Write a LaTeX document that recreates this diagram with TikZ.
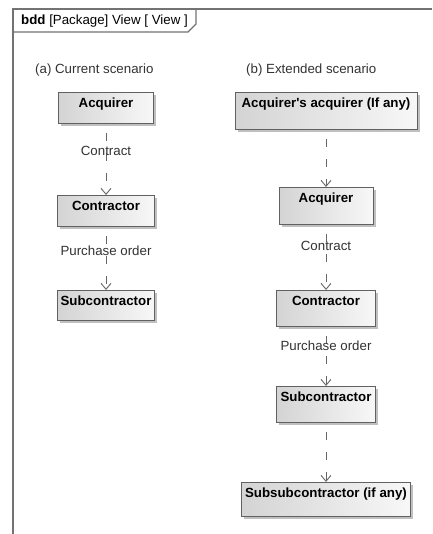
\documentclass[tikz,border=0pt]{standalone}
\usepackage{fontspec}
\setmainfont{Liberation Sans}[Ligatures=TeXOff]
\usetikzlibrary{arrows.meta,shadows}
\begin{document}
\begin{tikzpicture}[x=1bp,y=-1bp,
  every node/.style={font=\fontsize{13.3bp}{16bp}\selectfont},
  umlbox/.style={draw=black!62, line width=0.8bp, left color=black!17, right color=black!3,
     anchor=north, inner xsep=0bp, inner ysep=2bp, text height=13bp,
     font=\fontsize{13.3bp}{16bp}\selectfont\bfseries,
     drop shadow={shadow xshift=2.5bp, shadow yshift=-2.5bp, fill=black!35, opacity=0.7}},
  dep/.style={draw=black!60, line width=0.9bp, dash pattern=on 8bp off 12bp, dash phase=-9bp,
     -{Straight Barb[length=6bp,width=10bp,line width=0.9bp]}},
  lbl/.style={text=black!80, inner sep=0bp},
  frame/.style={draw=black!55, line width=1.4bp}]
\useasboundingbox (0,0) rectangle (432,534);
\fill[white] (0,0) rectangle (432,534);
% frame
\draw[frame] (13,534) -- (13,9) -- (432,9);
\draw[frame] (13,32) -- (188,32) -- (196,24) -- (196,9);
\node[anchor=west, inner sep=0bp] (title) at (21,21) {\textbf{bdd} [Package] View [ View ]};
% scenario labels
\node[lbl, anchor=west] (sa) at (35,70) {(a) Current scenario};
\node[lbl, anchor=west] (sb) at (246,70) {(b) Extended scenario};
% left column
\node[umlbox, minimum width=95bp, text depth=14bp] (la) at (106,92) {Acquirer};
\node[umlbox, minimum width=97bp, text depth=14bp] (lc) at (106,195) {Contractor};
\node[umlbox, minimum width=97bp, text depth=13bp] (ls) at (106,290) {Subcontractor};
% right column
\node[umlbox, minimum width=182bp, text depth=20bp] (raa) at (326,92) {Acquirer's acquirer (If any)};
\node[umlbox, minimum width=94bp, text depth=20bp] (ra) at (326,187) {Acquirer};
\node[umlbox, minimum width=99bp, text depth=19bp] (rc) at (326,290) {Contractor};
\node[umlbox, minimum width=99bp, text depth=19bp] (rs) at (326,386) {Subcontractor};
\node[umlbox, minimum width=169bp, text depth=17bp] (rss) at (326,482) {Subsubcontractor (if any)};
% connectors
\draw[dep] (la.south) -- (lc.north);
\draw[dep] (lc.south) -- (ls.north);
\draw[dep] (raa.south) -- (ra.north);
\draw[dep] (ra.south) -- (rc.north);
\draw[dep] (rc.south) -- (rs.north);
\draw[dep] (rs.south) -- (rss.north);
% connector labels
\node[lbl] (l1) at (106,151) {Contract};
\node[lbl] (l2) at (106,251) {Purchase order};
\node[lbl] (l3) at (326,246) {Contract};
\node[lbl] (l4) at (326,346) {Purchase order};
\end{tikzpicture}
\end{document}
